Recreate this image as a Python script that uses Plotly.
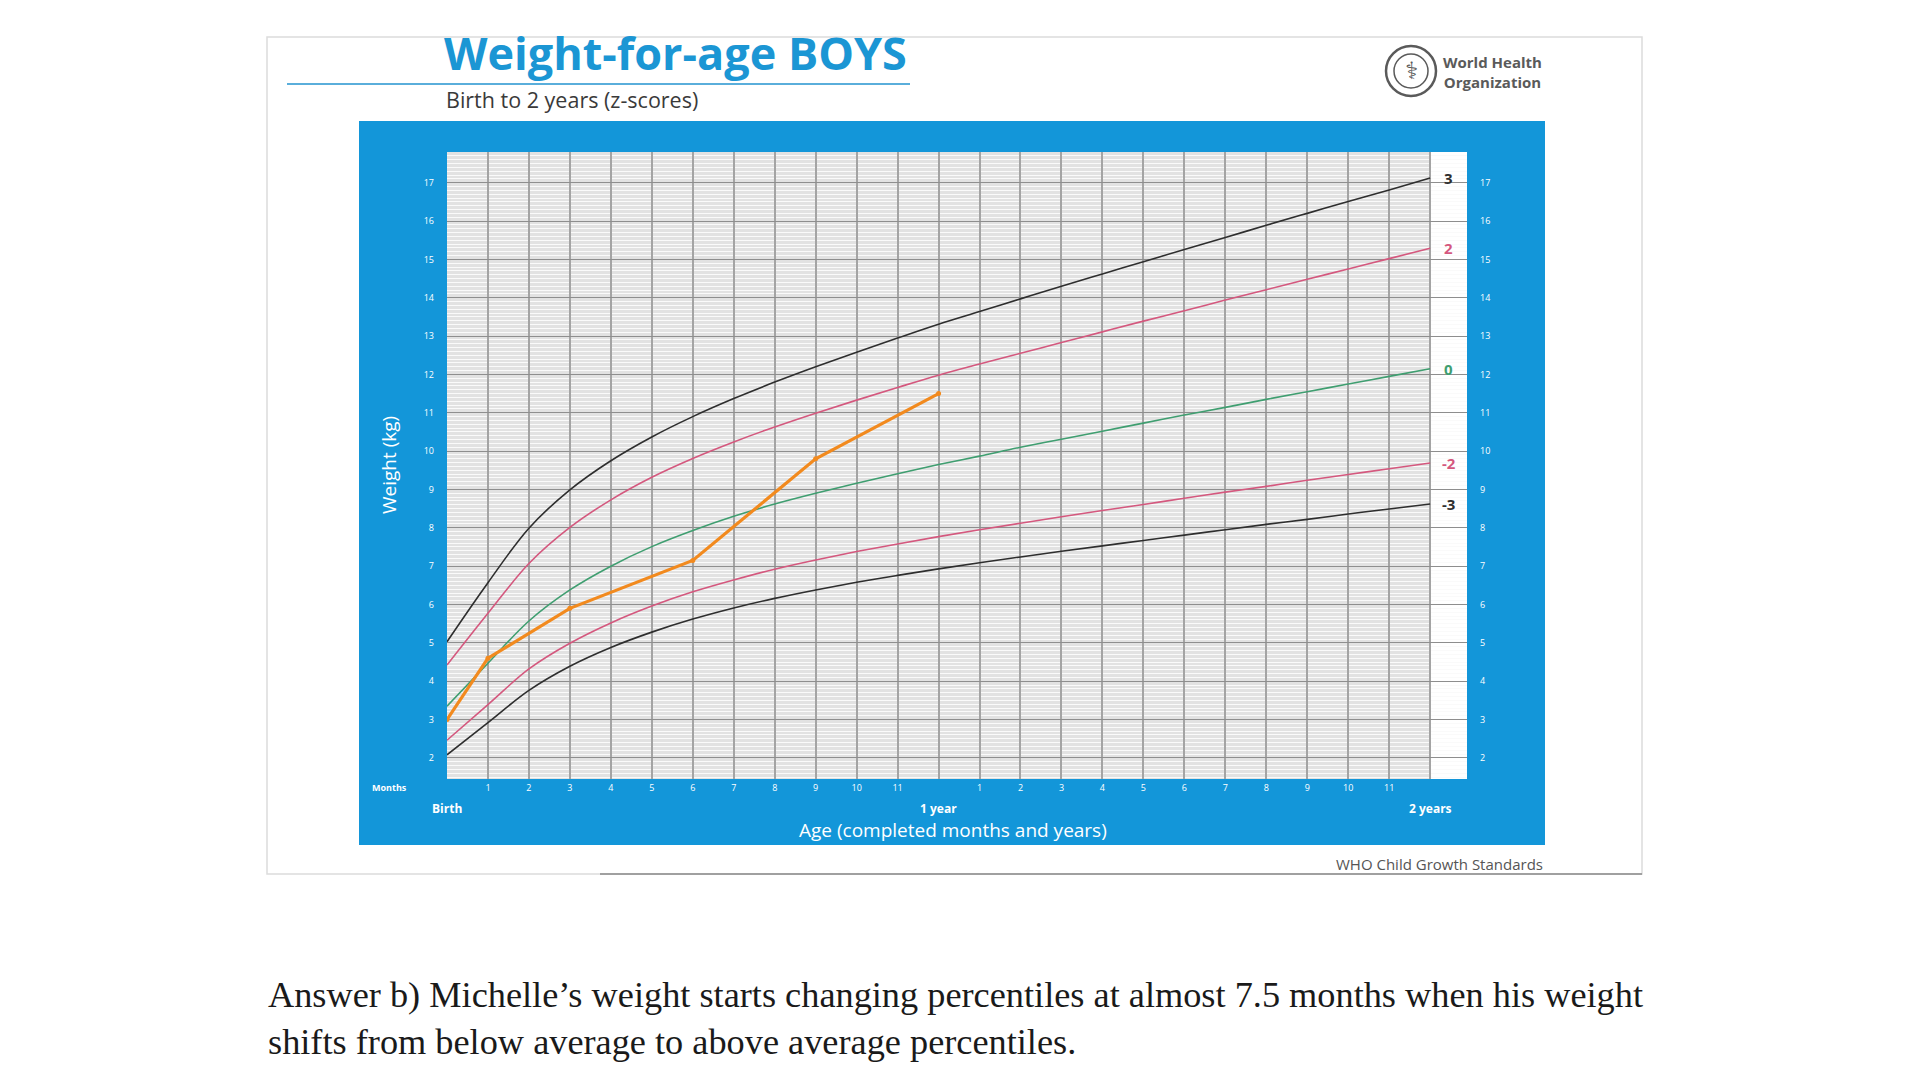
import plotly.graph_objects as go

# ---------------- data ----------------
months = list(range(25))
sd_neg3 = [2.08, 2.92, 3.76, 4.39, 4.88, 5.28, 5.62, 5.91, 6.16, 6.38, 6.58, 6.76, 6.93,
           7.09, 7.24, 7.39, 7.53, 7.67, 7.81, 7.95, 8.09, 8.22, 8.36, 8.49, 8.62]
sd_neg2 = [2.46, 3.39, 4.32, 4.99, 5.52, 5.96, 6.33, 6.64, 6.92, 7.16, 7.38, 7.58, 7.77,
           7.95, 8.12, 8.29, 8.45, 8.61, 8.77, 8.93, 9.08, 9.24, 9.39, 9.54, 9.69]
sd_0 = [3.35, 4.47, 5.57, 6.38, 7.00, 7.51, 7.93, 8.30, 8.62, 8.90, 9.16, 9.41, 9.65,
        9.87, 10.10, 10.31, 10.52, 10.73, 10.94, 11.14, 11.35, 11.55, 11.75, 11.95, 12.15]
sd_pos2 = [4.42, 5.77, 7.07, 8.01, 8.73, 9.32, 9.81, 10.24, 10.63, 10.99, 11.33, 11.66, 11.98,
           12.27, 12.55, 12.83, 13.11, 13.39, 13.66, 13.94, 14.21, 14.48, 14.75, 15.02, 15.29]
sd_pos3 = [5.03, 6.57, 7.99, 8.99, 9.75, 10.37, 10.90, 11.37, 11.80, 12.20, 12.58, 12.95, 13.31,
           13.64, 13.97, 14.30, 14.62, 14.94, 15.26, 15.57, 15.89, 16.20, 16.51, 16.81, 17.12]
michelle_months = [0, 1, 3, 6, 9, 12]
michelle_kg = [3.0, 4.6, 5.9, 7.15, 9.8, 11.5]
z_labels = ["3", "2", "0", "-2", "-3"]
y_ticks = list(range(2, 18))
month_ticks = list(range(25))
month_text = ["" if m in (0, 12, 24) else str(m % 12) for m in month_ticks]
age_marks = [0, 12, 24]
age_mark_text = ["Birth", "1 year", "2 years"]

title_text = "Weight-for-age BOYS"
subtitle_text = "Birth to 2 years (z-scores)"
caption_1 = "Answer b) Michelle\u2019s weight starts changing percentiles at almost 7.5 months when his weight"
caption_2 = "shifts from below average to above average percentiles."

# ---------------- layout geometry ----------------
W, H = 1920, 1080
L, R, T, B = 447, 453, 152, 301
PW, PH = W - L - R, H - T - B
X_RANGE = [0, 24.9]
Y_RANGE = [1.45, 17.8]

BLUE = "#1396d9"
C3 = "#2e2e2e"
C2 = "#d4587e"
C0 = "#3f9e70"
ORANGE = "#f28a1e"


def px(x):
    return (x - L) / PW


def py(y):
    return (H - B - y) / PH


fig = go.Figure()

series = [sd_pos3, sd_pos2, sd_0, sd_neg2, sd_neg3]
colors = [C3, C2, C0, C2, C3]
for vals, col, name in zip(series, colors, z_labels):
    fig.add_trace(go.Scatter(x=months, y=vals, mode="lines", name=name,
                             line=dict(color=col, width=1.6, shape="spline", smoothing=1.0),
                             hoverinfo="skip", showlegend=False))

fig.add_trace(go.Scatter(x=michelle_months, y=michelle_kg, mode="lines+markers",
                         name="Michelle", yaxis="y2",
                         line=dict(color=ORANGE, width=3.2),
                         marker=dict(color=ORANGE, size=5),
                         showlegend=False))

shapes = [
    # card
    dict(type="rect", xref="paper", yref="paper", x0=px(267), x1=px(1642), y0=py(874), y1=py(37),
         line=dict(color="#dcdcdc", width=1.5), fillcolor="rgba(0,0,0,0)", layer="below"),
    dict(type="line", xref="paper", yref="paper", x0=px(600), x1=px(1642), y0=py(874), y1=py(874),
         line=dict(color="#8a8a8a", width=1.5), layer="below"),
    # title underline
    dict(type="line", xref="paper", yref="paper", x0=px(287), x1=px(910), y0=py(84), y1=py(84),
         line=dict(color="#5aaedb", width=2), layer="below"),
    # blue panel
    dict(type="rect", xref="paper", yref="paper", x0=px(359), x1=px(1545), y0=py(845), y1=py(121),
         line=dict(width=0), fillcolor=BLUE, layer="below"),
    # white plot area
    dict(type="rect", xref="paper", yref="paper", x0=0, x1=1, y0=0, y1=1,
         line=dict(width=0), fillcolor="white", layer="below"),
    # grey grid area
    dict(type="rect", xref="x", yref="y", x0=0, x1=24, y0=Y_RANGE[0], y1=Y_RANGE[1],
         line=dict(width=0), fillcolor="#e2e2e2", layer="below"),
    # WHO emblem
    dict(type="circle", xref="paper", yref="paper", x0=px(1386), x1=px(1436), y0=py(96), y1=py(46),
         line=dict(color="#5a5a5a", width=2.5)),
    dict(type="circle", xref="paper", yref="paper", x0=px(1394), x1=px(1428), y0=py(88), y1=py(54),
         line=dict(color="#5a5a5a", width=1.5)),
]
for m in (12, 24):
    shapes.append(dict(type="line", xref="x", yref="paper", x0=m, x1=m, y0=0, y1=1,
                       line=dict(color="#7a7a7a", width=1.6), layer="between"))

annotations = []


def ann(text, x, y, size, color, xanchor="center", yanchor="middle", family="Open Sans",
        xref="paper", yref="paper", angle=0):
    annotations.append(dict(text=text, x=x, y=y, xref=xref, yref=yref, showarrow=False,
                            xanchor=xanchor, yanchor=yanchor, textangle=angle,
                            font=dict(size=size, color=color, family=family)))


ann("<b>" + title_text + "</b>", px(442), py(53), 45, "#1b96d4", xanchor="left")
ann(subtitle_text, px(444), py(99), 21.5, "#3a3a3a", xanchor="left")
ann("\u2695", px(1411), py(71), 24, "#5a5a5a", family="DejaVu Sans")
ann("<b>World Health<br>Organization</b>", px(1441), py(72), 15, "#5a5a5a", xanchor="left")
ann("Weight (kg)", px(389), py(465), 19, "white", angle=-90)
ann("Age (completed months and years)", px(953), py(830), 19, "white")
ann("WHO Child Growth Standards", px(1545), py(864), 15, "#555555", xanchor="right")
ann("<b>Months</b>", px(389), py(787), 9, "white")
for m, t in zip(age_marks, age_mark_text):
    ann("<b>" + t + "</b>", m, py(808), 12, "white", xref="x")
for vals, col, lab in zip(series, colors, z_labels):
    ann("<b>" + lab + "</b>", 24.46, vals[-1], 15, col, xref="x", yref="y")
ann(caption_1, px(266), py(995), 36.3, "#1a1a1a", xanchor="left", family="Liberation Serif")
ann(caption_2, px(266), py(1042), 36.3, "#1a1a1a", xanchor="left", family="Liberation Serif")

fig.update_layout(
    width=W, height=H, margin=dict(l=L, r=R, t=T, b=B, pad=0),
    paper_bgcolor="white", plot_bgcolor="white",
    shapes=shapes, annotations=annotations, showlegend=False,
    font=dict(family="Open Sans"),
    xaxis=dict(range=X_RANGE, tickmode="array", tickvals=month_ticks, ticktext=month_text,
               showgrid=True, gridcolor="#a4a4a4", gridwidth=1.5, zeroline=False,
               showline=False, ticks="", ticklabelstandoff=2,
               tickfont=dict(size=9, color="white")),
    yaxis=dict(range=Y_RANGE, tickmode="array", tickvals=y_ticks,
               showgrid=True, gridcolor="#8e8e8e", gridwidth=1.3, zeroline=False,
               showline=False, ticks="", ticklabelstandoff=12,
               tickfont=dict(size=9, color="white"),
               minor=dict(dtick=0.1, tick0=0, showgrid=True, gridcolor="#fafafa", gridwidth=1)),
    yaxis2=dict(range=Y_RANGE, overlaying="y", side="right", tickmode="array", tickvals=y_ticks,
                showgrid=False, zeroline=False, showline=False, ticks="", ticklabelstandoff=12,
                tickfont=dict(size=9, color="white")),
)

fig.write_html("out.html", config={"displayModeBar": False},
               post_script="document.body.style.margin='0';document.body.style.overflow='hidden';")
